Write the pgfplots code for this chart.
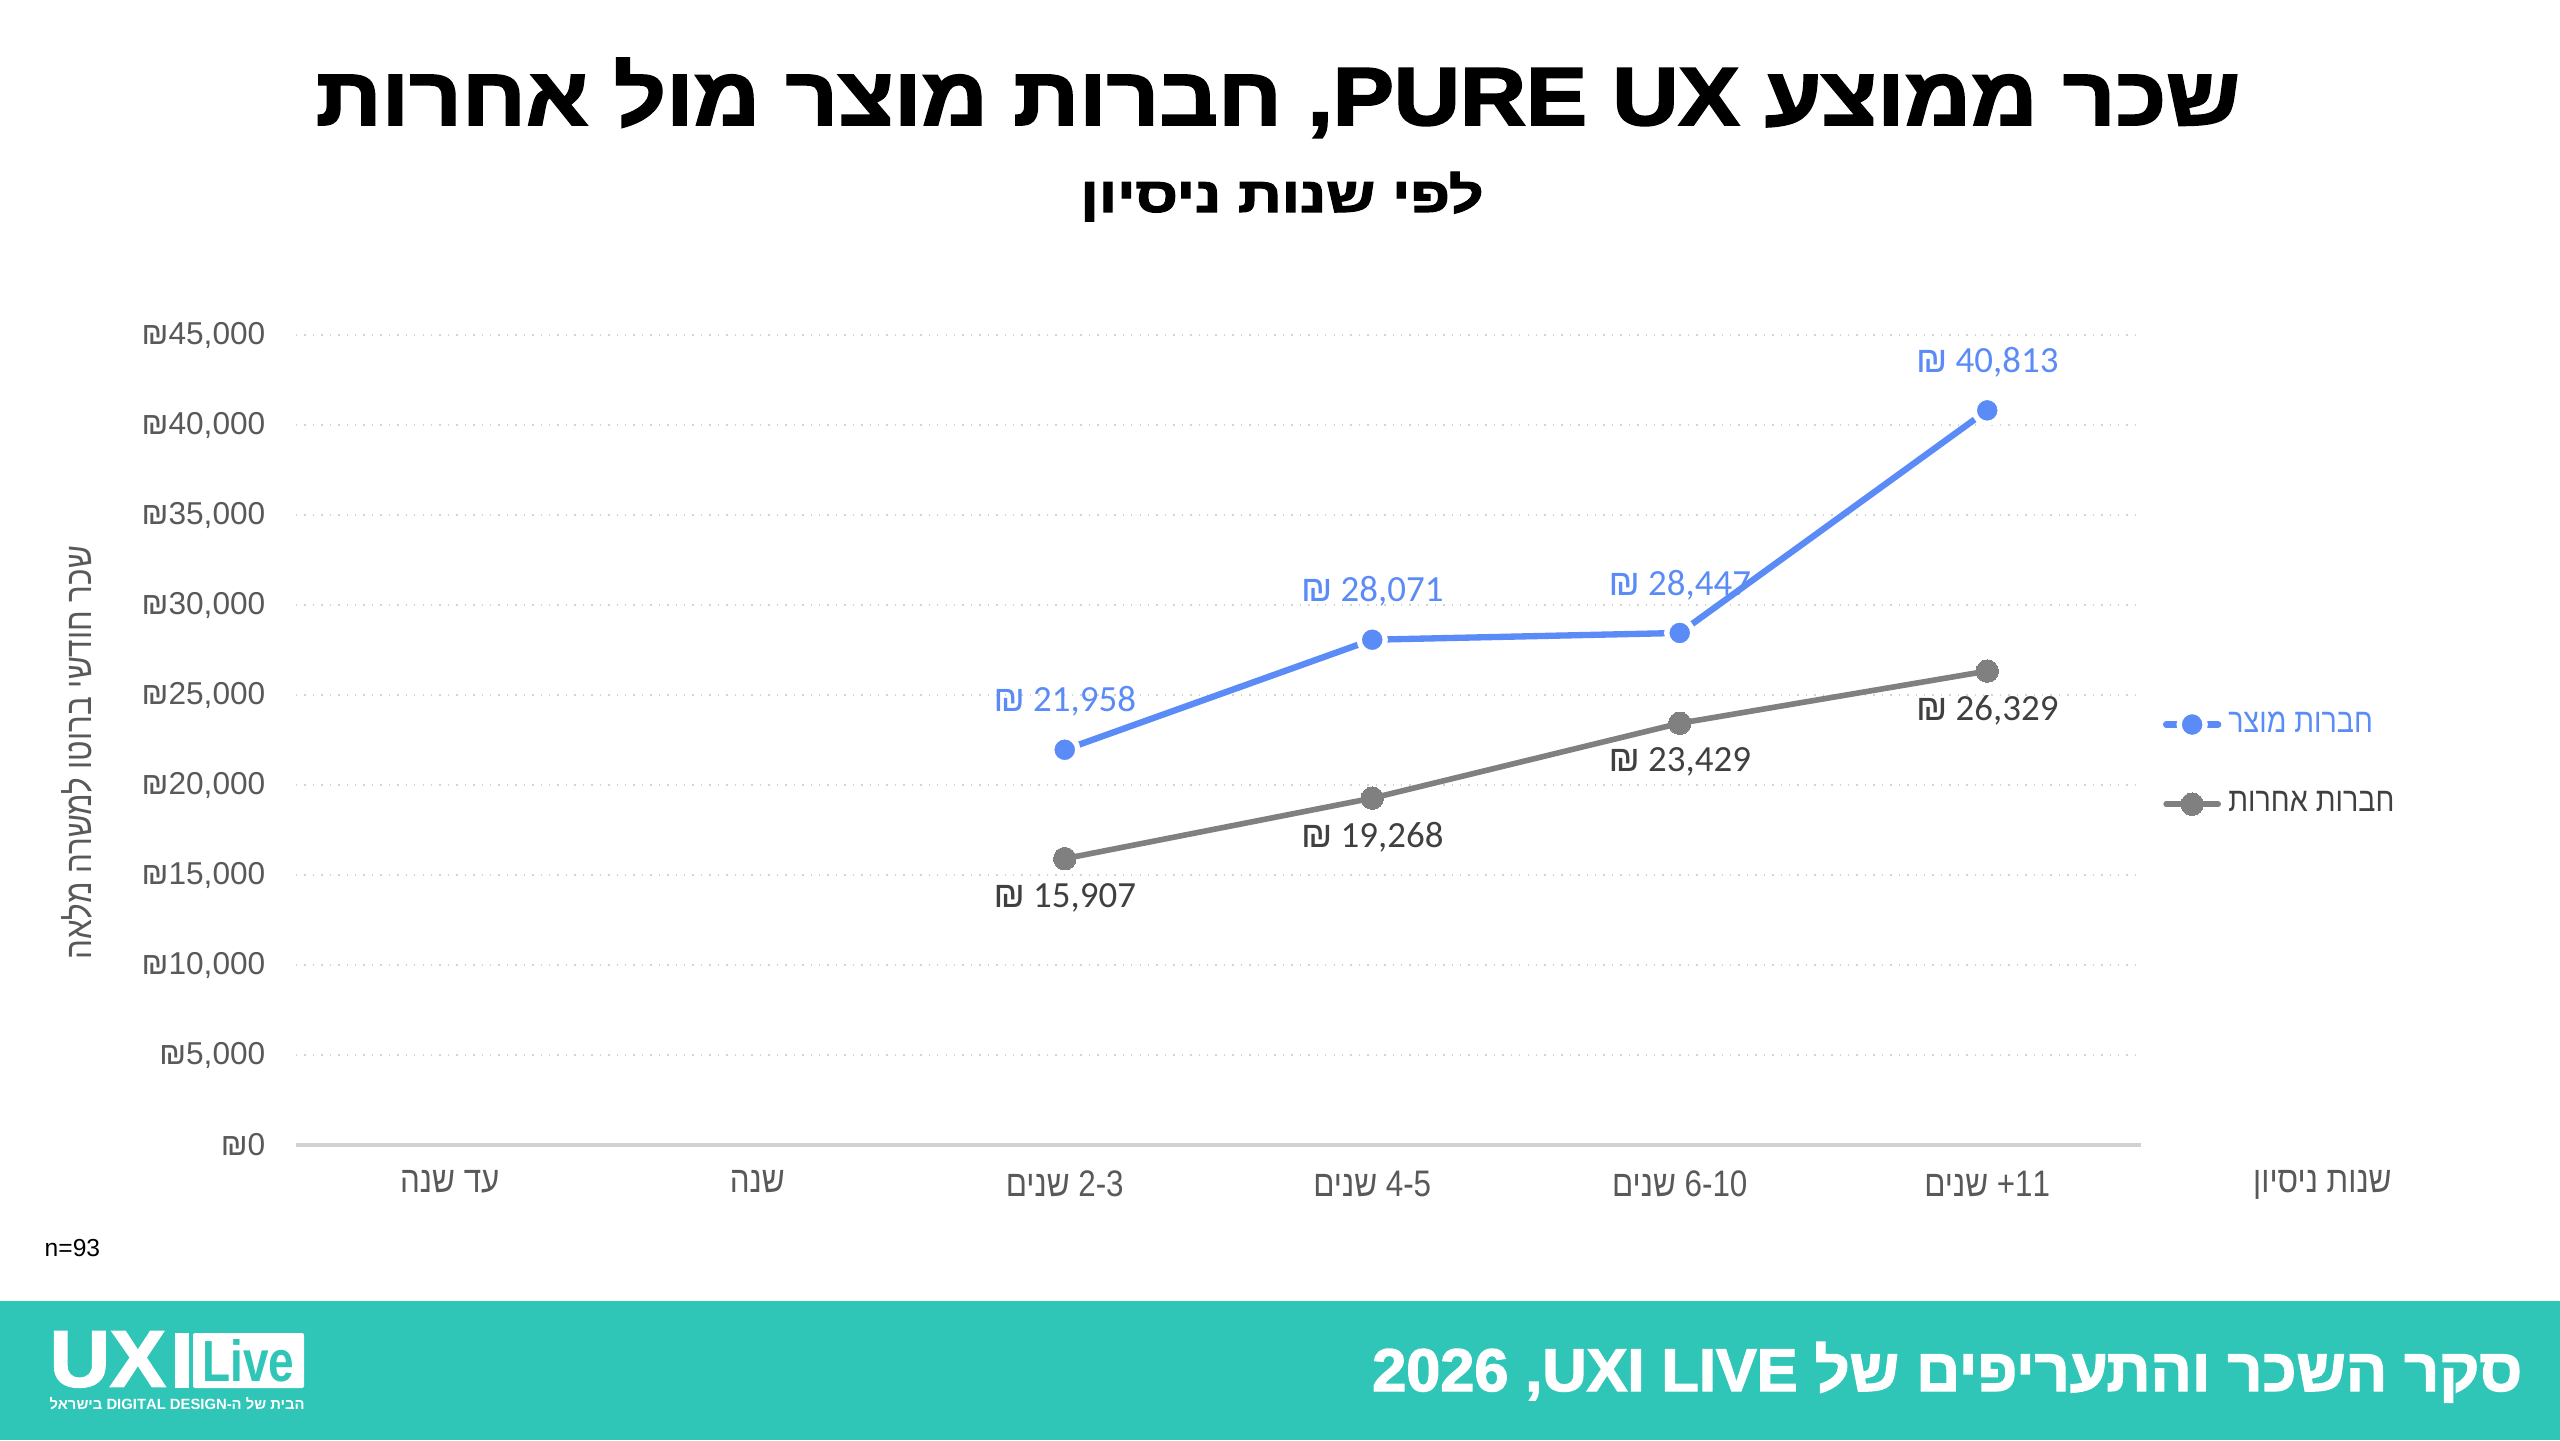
\documentclass[border=0pt]{standalone}
\usepackage{fontspec}
\usepackage{graphicx}
\usepackage{pgfplots}
\pgfplotsset{compat=1.18}
\TeXXeTstate=1
\setmainfont{Liberation Sans}
\newfontfamily\heb[Script=Hebrew]{Liberation Sans}
\newfontfamily\hebh[Script=Hebrew,BoldFeatures={FakeBold=2.2}]{Liberation Sans}
\newfontfamily\hebc[Script=Hebrew,FakeStretch=0.85]{Liberation Sans}
\newfontfamily\lab{Carlito}
\definecolor{prodblue}{RGB}{90,139,246}
\definecolor{othgray}{RGB}{128,128,128}
\definecolor{footteal}{RGB}{47,197,183}
\definecolor{txtgray}{RGB}{89,89,89}
\definecolor{labgray}{RGB}{64,64,64}
\definecolor{gridgray}{RGB}{210,210,210}

\pgfplotstableread{
x y
2 21958
3 28071
4 28447
5 40813
}\prod
\pgfplotstableread{
x y
2 15907
3 19268
4 23429
5 26329
}\other

\begin{document}
\begin{tikzpicture}[x=1cm,y=1cm]
\fill[white] (0,0) rectangle (25.6,14.4);
\path[use as bounding box] (0,0) rectangle (25.6,14.4);
\fill[footteal] (0,0) rectangle (25.6,1.39);

% titles
\node[anchor=base, inner sep=0] at (12.78,13.15)
  {\resizebox{19.24cm}{0.67cm}{\hebh\bfseries\beginR שכר ממוצע \beginL PURE UX\endL, חברות מוצר מול אחרות\endR}};
\node[anchor=base, inner sep=0] at (12.82,12.28)
  {\resizebox{4.03cm}{0.40cm}{\hebh\bfseries\beginR לפי שנות ניסיון\endR}};

\begin{axis}[
  at={(2.96cm,2.95cm)}, anchor=south west,
  scale only axis, width=18.45cm, height=8.10cm,
  xmin=-0.5, xmax=5.5, ymin=0, ymax=45000,
  clip=false,
  axis line style={draw=none},
  major tick length=0pt,
  xtick={0,1,2,3,4,5},
  xticklabels={
    {\beginR עד שנה\endR},
    {\beginR שנה\endR},
    {\beginR\beginL 2-3\endL{} שנים\endR},
    {\beginR\beginL 4-5\endL{} שנים\endR},
    {\beginR\beginL 6-10\endL{} שנים\endR},
    {\beginR\beginL 11\endL+ שנים\endR}},
  xticklabel style={font=\hebc\fontsize{10.5}{12}\selectfont, text=txtgray, anchor=north, inner sep=0pt, yshift=-0.25cm},
  ytick={0,5000,...,45000},
  scaled y ticks=false,
  yticklabel={₪\pgfmathprintnumber[1000 sep={,},fixed,precision=0,assume math mode=true]{\tick}},
  yticklabel style={font=\fontsize{9}{11}\selectfont, text=txtgray, anchor=east, inner sep=0pt, xshift=-0.3cm},
  ymajorgrids,
  grid style={gridgray, dotted, line width=0.7pt},
  legend style={at={(axis cs:5.535,21150)}, anchor=west, draw=none, fill=none,
    font=\hebc\fontsize{9.6}{11}\selectfont, row sep=0.40cm,
    /tikz/every even column/.append style={column sep=0.02cm}},
  legend cell align=left,
  legend image code/.code={\draw[mark repeat=2,mark phase=2,#1] plot coordinates {(0cm,0cm) (0.26cm,0cm) (0.52cm,0cm)};},
  nodes near coords={{\heb ₪} \pgfmathprintnumber[1000 sep={,},fixed,precision=0,assume math mode=true]{\pgfplotspointmeta}},
  point meta=y,
]
\draw[gridgray, line width=1.1pt] (axis cs:-0.5,0) -- (axis cs:5.5,0);

\addplot[prodblue, line width=1.8pt, line cap=round, mark=*, mark size=3.7pt,
  mark options={fill=prodblue, draw=white, line width=1.5pt},
  every node near coord/.append style={font=\lab\fontsize{10.5}{12}\selectfont, text=prodblue, anchor=center, yshift=0.48cm}]
  table[x=x,y=y] {\prod};
\addlegendentry{\textcolor{prodblue}{\beginR חברות מוצר\endR}}

\addplot[othgray, line width=1.6pt, line cap=round, mark=*, mark size=3.2pt,
  mark options={fill=othgray, draw=othgray, line width=0pt},
  every node near coord/.append style={font=\lab\fontsize{10.5}{12}\selectfont, text=labgray, anchor=center, yshift=-0.39cm}]
  table[x=x,y=y] {\other};
\addlegendentry{\textcolor{labgray}{\beginR חברות אחרות\endR}}

\node[anchor=north, inner sep=0pt, yshift=-0.25cm, text=txtgray, font=\hebc\fontsize{10.5}{12}\selectfont] at (axis cs:6.09,0) {\beginR שנות ניסיון\endR};
\end{axis}

% y label
\node[rotate=90, text=txtgray, font=\hebc\fontsize{10.5}{12}\selectfont] at (0.77,6.87) {\beginR שכר חודשי ברוטו למשרה מלאה\endR};

% n
\node[anchor=west, inner sep=0pt, font=\fontsize{7}{8}\selectfont] at (0.44,1.92) {n=93};

% footer text
\node[anchor=base east, inner sep=0, text=white] at (25.23,0.49)
  {\resizebox{11.5cm}{0.49cm}{\hebh\bfseries\beginR סקר השכר והתעריפים של \beginL UXI LIVE\endL, \beginL 2026\endL\endR}};

% logo
\node[anchor=south west, inner sep=0, text=white] at (0.49,0.52) {\resizebox{1.16cm}{0.55cm}{\hebh\bfseries UX}};
\fill[white] (1.75,0.52) rectangle (1.89,1.07);
\fill[white, rounded corners=0.6pt] (1.93,0.52) rectangle (3.04,1.07);
\node[text=footteal, inner sep=0] at (2.485,0.795) {\resizebox{0.92cm}{0.42cm}{\bfseries Live}};
\node[anchor=base west, inner sep=0, text=white] at (0.49,0.30)
  {\resizebox{2.55cm}{!}{\heb\bfseries\beginR הבית של ה-\beginL DIGITAL DESIGN\endL{} בישראל\endR}};
\end{tikzpicture}
\end{document}
